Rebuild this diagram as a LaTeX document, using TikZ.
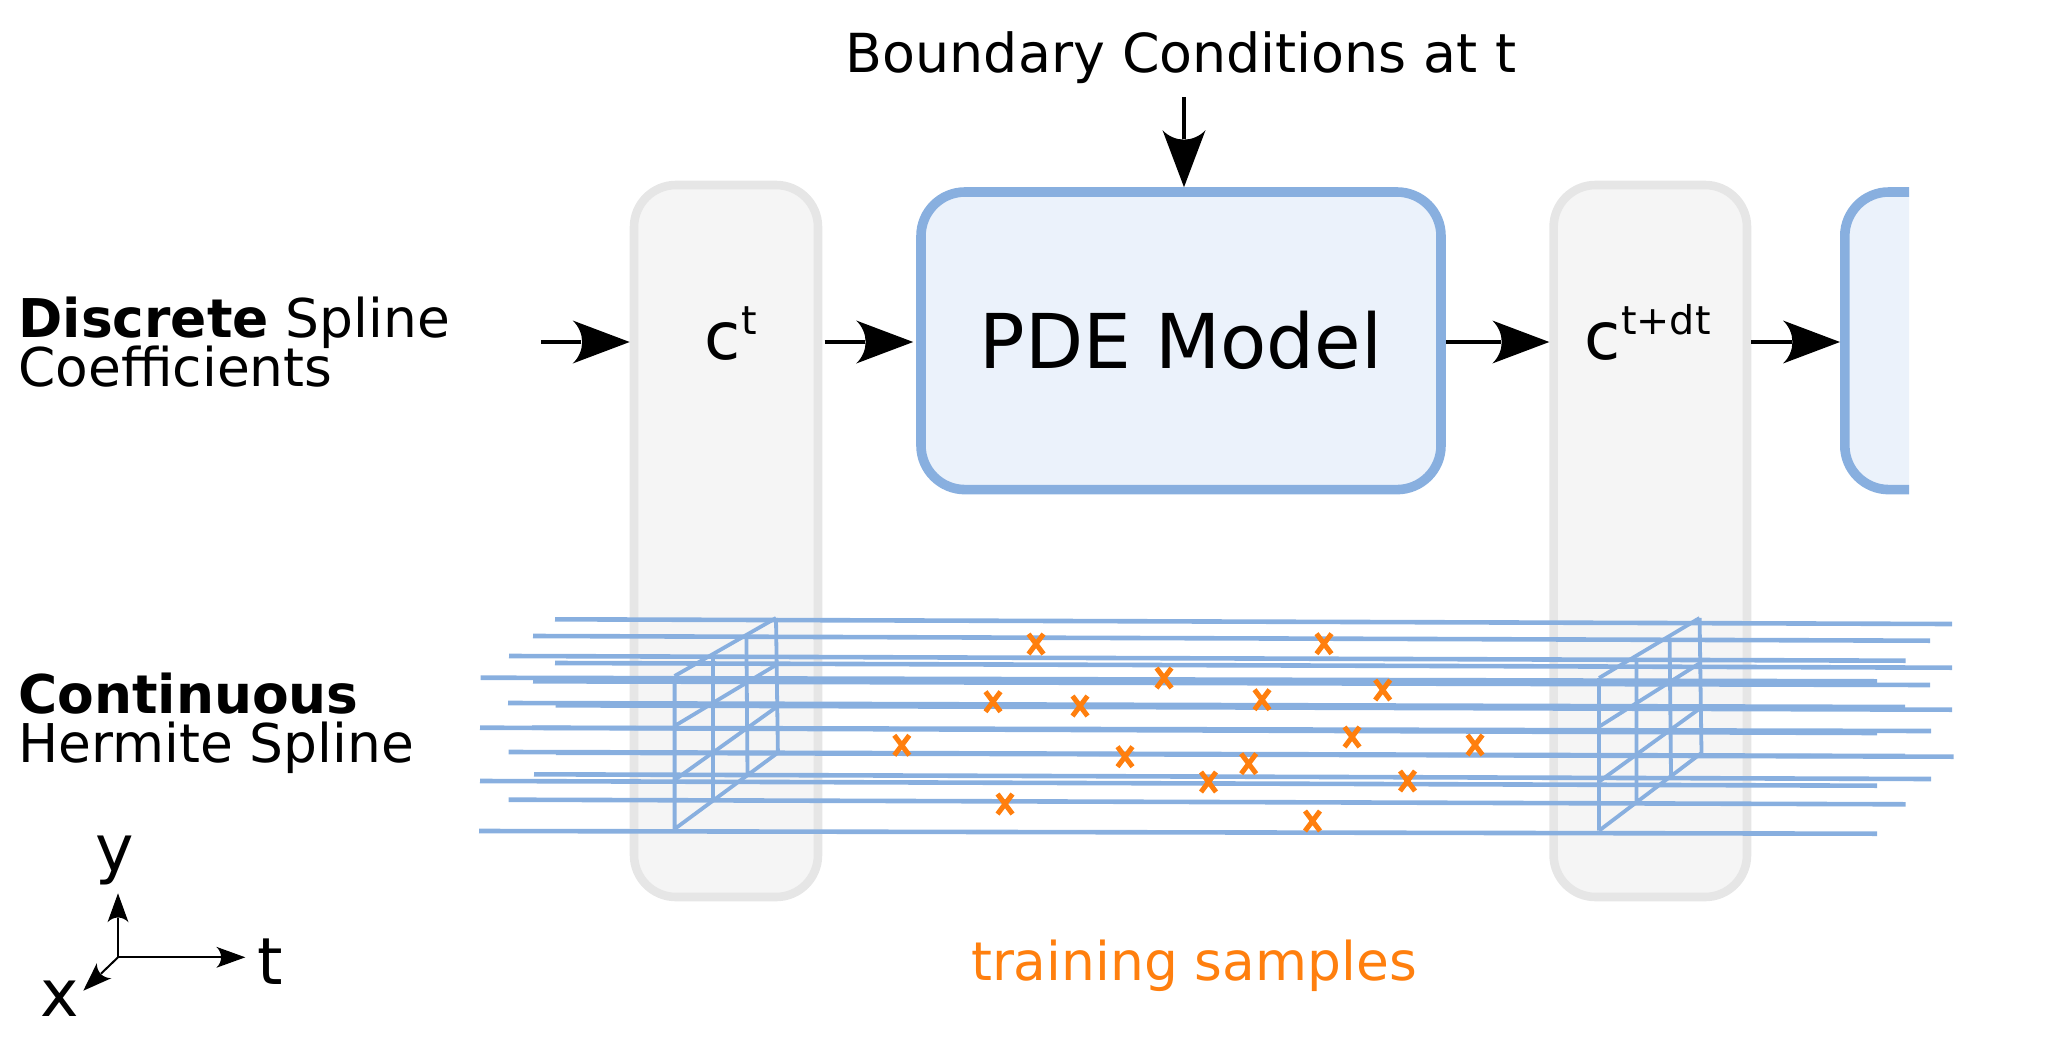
\documentclass[tikz,border=0pt]{standalone}
\usepackage{fontspec}
\setmainfont{DejaVu Sans}
\usetikzlibrary{arrows.meta}
\definecolor{splineblue}{HTML}{88AFDF}
\definecolor{modelfill}{HTML}{EBF2FB}
\definecolor{coefstroke}{HTML}{E6E6E6}
\definecolor{coeffill}{HTML}{F5F5F5}
\definecolor{sampleorange}{HTML}{FF7F0E}

% Arrow head with a concave, curved rear edge
\pgfdeclarearrow{
  name = Swept,
  defaults = {length = 28.5pt, width = 21pt},
  setup code = {
    \pgfarrowssettipend{0pt}
    \pgfarrowssetlineend{-0.85\pgfarrowlength}
    \pgfarrowssetbackend{-\pgfarrowlength}
    \pgfarrowssetvisualbackend{-0.85\pgfarrowlength}
    \pgfarrowshullpoint{0pt}{0pt}
    \pgfarrowshullpoint{-\pgfarrowlength}{0.5\pgfarrowwidth}
    \pgfarrowshullpoint{-\pgfarrowlength}{-0.5\pgfarrowwidth}
    \pgfarrowssavethe\pgfarrowlength
    \pgfarrowssavethe\pgfarrowwidth
  },
  drawing code = {
    \pgfpathmoveto{\pgfqpoint{0pt}{0pt}}
    \pgfpathlineto{\pgfpoint{-\pgfarrowlength}{0.5\pgfarrowwidth}}
    \pgfpathcurveto{\pgfpoint{-0.78\pgfarrowlength}{0.22\pgfarrowwidth}}
                   {\pgfpoint{-0.78\pgfarrowlength}{-0.22\pgfarrowwidth}}
                   {\pgfpoint{-\pgfarrowlength}{-0.5\pgfarrowwidth}}
    \pgfpathclose
    \pgfusepathqfill
  },
  parameters = {\the\pgfarrowlength,\the\pgfarrowwidth},
}

% Two-line labels keep a fixed distance between baselines
\newcommand{\labelfont}{\fontsize{26.7pt}{24.5pt}\selectfont\lineskiplimit=-50pt\relax}

\tikzset{
  coefbox/.style={draw=coefstroke, fill=coeffill, line width=4.3pt, rounded corners=21pt,
    minimum height=356pt, inner sep=0pt},
  modelbox/.style={draw=splineblue, fill=modelfill, line width=4.8pt, rounded corners=22pt,
    minimum width=260pt, minimum height=148.8pt, inner sep=0pt},
  flow/.style={line width=1.9pt, -{Swept[length=28.5pt,width=21.5pt]}},
  axis/.style={line width=1pt, -{Swept[length=14.5pt,width=10.5pt]}},
  spline/.style={draw=splineblue, line width=2.3pt},
  cell/.style={draw=splineblue, line width=1.9pt},
  sample/.style={draw=sampleorange, line width=2.5pt},
  label/.style={inner sep=0pt, font=\labelfont, align=left},
  body/.style={inner sep=0pt, font=\fontsize{26.9pt}{32pt}\selectfont},
  axislabel/.style={inner sep=0pt, font=\fontsize{32.5pt}{36pt}\selectfont},
  coeflabel/.style={inner sep=0pt, anchor=base west, font=\fontsize{33pt}{38pt}\selectfont},
}
\newcommand{\upperindex}[1]{\raisebox{12.5pt}{\fontsize{19.8pt}{24pt}\selectfont #1}}

\begin{document}
\begin{tikzpicture}[x=0.5pt, y=-0.5pt]
  \useasboundingbox (0,0) rectangle (2058,1039);

  % Coefficient columns
  \node[coefbox, minimum width=92pt] (ct) at (726,541) {};
  \node[coefbox, minimum width=96.7pt] (ctd) at (1650.3,541) {};

  % PDE blocks, the second one cut off on the right
  \node[modelbox] (pde) at (1181,340.8) {};
  \begin{scope}
    \clip (1800,150) rectangle (1909,520);
    \node[modelbox, anchor=west] (next) at (1840,340.8) {};
  \end{scope}

  % Spline rails running along t
  \foreach \xa/\ya/\xb/\yb in {
    555/619.3/1952/624, 533/636/1930/640.7, 509/656/1905.6/660.7, 555/663/1952/667.7,
    480.7/677.7/1877/681.3, 533/681.3/1930/685, 508/703/1905/707, 555.7/705.3/1952/709.7,
    480/727.7/1877/733, 532/727.7/1931/731, 508.6/752/1905/756, 556/752.7/1953.5/756.7,
    534/774.3/1931/779, 480/781/1877/785.7, 508.6/799.7/1905.6/804.3, 479/831/1877/833.7}
    \draw[spline] (\xa,\ya) -- (\xb,\yb);

  % Grid slice in the column at t
  \draw[cell] (674.6,676) -- (674.6,829)
    (712.9,658) -- (712.9,800.7)
    (746.4,638) -- (747.5,775)
    (776,618) -- (777.9,752.7)
    (674.6,676) -- (776,618)
    (674.6,726) -- (776,665)
    (674.6,780) -- (777,706.7)
    (674.6,829) -- (777.9,752.7);

  % Grid slice in the column at t+dt
  \draw[cell] (1599,678) -- (1599,830.7)
    (1636.5,658) -- (1636.5,801.7)
    (1669.6,638) -- (1671,775)
    (1699.6,618) -- (1701.5,753)
    (1599,678) -- (1699.6,618)
    (1599,726.7) -- (1700,663)
    (1599,781.7) -- (1700.5,708)
    (1599,830.7) -- (1701.5,753);

  % Training samples
  \foreach \sx/\sy in {
    1036/644, 1324/643.7, 1164/678, 1382.7/690, 1262/699.7, 1080/706, 993/701.7,
    1352/737, 1475/745, 901.8/745.3, 1125/756.7, 1248.7/763.7, 1208.5/782,
    1407.5/781, 1005/804, 1312.5/821}
    \draw[sample, shift={(\sx,\sy)}] (-7.5,-10) -- (7.5,10) (7.5,-10) -- (-7.5,10);

  % Data flow along the top row
  \coordinate (row) at (0,342);
  \coordinate (feed) at (541,342);
  \coordinate (bcstart) at (1184,97);
  \draw[flow] (feed) -- (ct.west |- row);
  \draw[flow, shorten <=1.2pt, shorten >=1.5pt] (ct.east |- row) -- (pde.west |- row);
  \draw[flow] (pde.east |- row) -- (ctd.west |- row);
  \draw[flow] (ctd.east |- row) -- (next.west |- row);
  \draw[flow] (bcstart) -- (bcstart |- pde.north);

  % Texts
  \node[body, anchor=base] (bc) at (1181,72) {Boundary Conditions at t};
  \node[inner sep=0pt, anchor=base, font=\fontsize{37.8pt}{44pt}\selectfont] (pdelabel) at (1181,368) {PDE Model};
  \node[coeflabel] (ctlabel) at (704.5,359) {c\upperindex{t}};
  \node[coeflabel] (ctdlabel) at (1584.5,359) {c\upperindex{t+dt}};
  \node[label, anchor=north west] (discrete) at (18,297) {\textbf{Discrete} Spline\\Coefficients};
  \node[label, anchor=north west] (continuous) at (18,673) {\textbf{Continuous}\\Hermite Spline};
  \node[inner sep=0pt, anchor=base, text=sampleorange, font=\fontsize{26.7pt}{32pt}\selectfont] (samples) at (1194,980) {training samples};

  % Axes
  \coordinate (origin) at (118,957.3);
  \coordinate (yend) at (118,893.3);
  \coordinate (tend) at (245.3,957.3);
  \coordinate (xend) at (83.3,990.7);
  \draw[axis] (origin) -- (yend);
  \draw[axis] (origin) -- (tend);
  \draw[axis] (origin) -- (xend);
  \node[axislabel, anchor=base] (ylabel) at (114.5,871.5) {y};
  \node[axislabel, anchor=base west] (tlabel) at (257,984.3) {t};
  \node[axislabel, anchor=base west] (xlabel) at (40,1016.7) {x};
\end{tikzpicture}
\end{document}
